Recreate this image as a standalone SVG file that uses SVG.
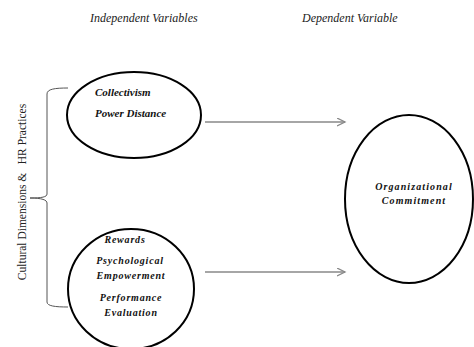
<svg xmlns="http://www.w3.org/2000/svg" width="474" height="347" viewBox="0 0 474 347">
<defs>
<style>
.hdr{font-family:"Liberation Serif","Times New Roman",serif;font-style:italic;font-size:12px;fill:#222}
.lbl{font-family:"Liberation Serif","Times New Roman",serif;font-style:italic;font-weight:bold;font-size:10px;fill:#111;text-anchor:middle}
.big{font-size:11px;text-anchor:start}
.sp{letter-spacing:0.8px}
.sp2{letter-spacing:1.1px}
.ell{fill:#fff;stroke:#000;stroke-width:2}
.arr{stroke:#888;stroke-width:1.3;fill:none}
.brace{stroke:#555;stroke-width:1;fill:none}
.side{font-family:"Liberation Serif","Times New Roman",serif;font-size:11.5px;fill:#222}
</style>
<marker id="ah" markerWidth="10" markerHeight="10" refX="8" refY="4" orient="auto" markerUnits="userSpaceOnUse">
<path d="M0,0 L8,4 L0,8" fill="none" stroke="#888" stroke-width="1.3"/>
</marker>
</defs>
<rect width="474" height="347" fill="#fff"/>
<text class="hdr" x="90" y="22">Independent Variables</text>
<text class="hdr" x="302" y="22">Dependent Variable</text>
<g id="side-label">
<text class="side" transform="translate(26,192) rotate(-90)" text-anchor="middle" xml:space="preserve">Cultural Dimensions &amp;   HR Practices</text>
</g>
<g id="brace">
<path class="brace" d="M68,88 C55,88 47,89 47,94 L47,194 C47,197 42,198 30,198 C42,198 47,200 47,203 L47,302 C47,306 55,307 68,307"/>
</g>
<g id="cultural">
<ellipse class="ell" cx="134" cy="115" rx="67" ry="43"/>
<text class="lbl big" x="95" y="96">Collectivism</text>
<text class="lbl big" x="95" y="117">Power Distance</text>
</g>
<g id="hr">
<ellipse class="ell" cx="131" cy="289" rx="63" ry="60"/>
<text class="lbl sp" x="125" y="243">Rewards</text>
<text class="lbl sp" x="130" y="264">Psychological</text>
<text class="lbl sp" x="131" y="279">Empowerment</text>
<text class="lbl sp" x="131" y="301">Performance</text>
<text class="lbl sp" x="131" y="316">Evaluation</text>
</g>
<g id="commitment">
<ellipse class="ell" cx="409" cy="199" rx="64" ry="84"/>
<text class="lbl sp2" x="414" y="190">Organizational</text>
<text class="lbl sp2" x="414" y="204">Commitment</text>
</g>
<g id="connectors">
<line class="arr" x1="205" y1="122" x2="345" y2="122" marker-end="url(#ah)"/>
<line class="arr" x1="205" y1="272" x2="345" y2="272" marker-end="url(#ah)"/>
</g>
</svg>
